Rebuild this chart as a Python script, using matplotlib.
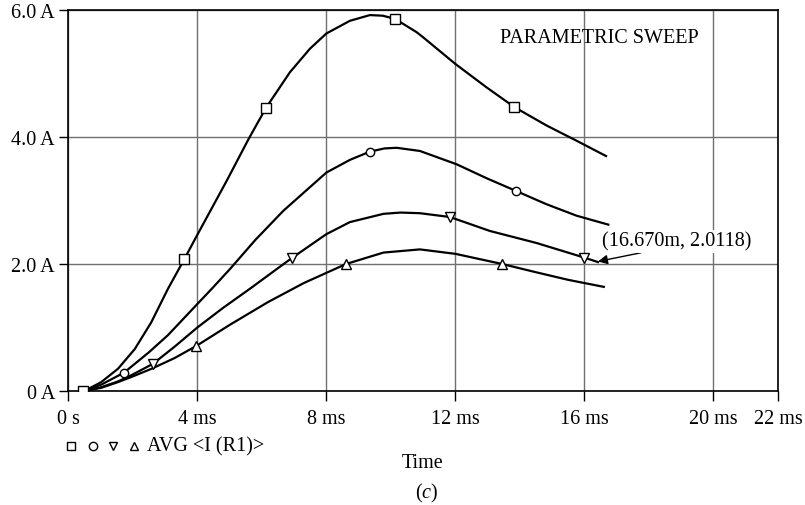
import numpy as np
import matplotlib
matplotlib.use("Agg")
import matplotlib.pyplot as plt
from matplotlib.lines import Line2D

plt.rcParams['font.family'] = ['Liberation Serif', 'DejaVu Serif']
plt.rcParams['mathtext.fontset'] = 'custom'
plt.rcParams['mathtext.it'] = 'Liberation Serif:italic'
plt.rcParams['mathtext.rm'] = 'Liberation Serif'

# time in ms, current in A
t_sq = [0.5, 1.02, 1.54, 2.06, 2.57, 3.09, 3.6, 4.0, 4.91, 5.58, 6.13, 6.87, 7.49, 8.0, 8.73, 9.35, 9.75, 10.13, 10.8, 11.0, 12.0, 12.97, 13.83, 14.83, 15.76, 16.67]
i_sq = [0.0, 0.14, 0.35, 0.66, 1.08, 1.61, 2.08, 2.46, 3.31, 3.96, 4.46, 5.02, 5.39, 5.63, 5.83, 5.92, 5.91, 5.86, 5.65, 5.57, 5.15, 4.78, 4.47, 4.18, 3.94, 3.70]

t_ci = [0.5, 1.02, 1.73, 2.5, 3.09, 4.0, 4.43, 5.01, 5.8, 6.67, 8.0, 8.73, 9.35, 9.8, 10.18, 10.9, 12.04, 12.97, 13.88, 14.83, 15.76, 16.74]
i_ci = [0.0, 0.1, 0.29, 0.61, 0.88, 1.37, 1.6, 1.92, 2.38, 2.84, 3.44, 3.64, 3.77, 3.82, 3.83, 3.78, 3.57, 3.35, 3.15, 2.94, 2.76, 2.62]

t_dn = [0.5, 1.02, 1.54, 2.0, 2.63, 3.3, 4.0, 4.8, 5.63, 6.46, 6.92, 8.0, 8.73, 9.77, 10.3, 10.9, 11.83, 13.07, 14.52, 16.0, 16.42]
i_dn = [0.0, 0.06, 0.15, 0.26, 0.43, 0.7, 1.0, 1.31, 1.61, 1.92, 2.09, 2.47, 2.66, 2.79, 2.81, 2.80, 2.74, 2.52, 2.33, 2.1, 2.03]

t_up = [0.5, 1.02, 1.54, 2.0, 2.58, 3.3, 3.97, 5.0, 6.19, 7.3, 8.61, 9.77, 10.9, 12.0, 13.45, 14.5, 15.5, 16.6]
i_up = [0.0, 0.05, 0.14, 0.23, 0.35, 0.52, 0.71, 1.04, 1.40, 1.70, 2.0, 2.18, 2.23, 2.16, 2.0, 1.87, 1.75, 1.64]

# marker positions
mt_sq = [0.45, 3.6, 6.13, 10.13, 13.83]
mi_sq = [0.0, 2.08, 4.46, 5.86, 4.47]
mt_ci = [1.73, 9.35, 13.88]
mi_ci = [0.29, 3.77, 3.15]
mt_dn = [2.63, 6.92, 11.83, 16.0]
mi_dn = [0.43, 2.09, 2.74, 2.1]
mt_up = [3.97, 8.61, 13.45]
mi_up = [0.71, 2.0, 2.0]

xticks = [0, 4, 8, 12, 16, 20, 22]
xticklabels = ['0 s', '4 ms', '8 ms', '12 ms', '16 ms', '20 ms', '22 ms']
yticks = [0, 2, 4, 6]
yticklabels = ['0 A', '2.0 A', '4.0 A', '6.0 A']

fs = 14.5
fig = plt.figure(figsize=(8.05, 5.06), dpi=100)
ax = fig.add_axes([68.3/805, 1-392/506, (778-68.3)/805, (392-11)/506])

for t, i in [(t_up, i_up), (t_dn, i_dn), (t_ci, i_ci), (t_sq, i_sq)]:
    ax.plot(t, i, color='black', lw=1.6, zorder=3, solid_joinstyle='round')

mk = dict(linestyle='none', mfc='white', mec='black', mew=1.0, zorder=4)
ax.plot(mt_up, mi_up, marker='^', ms=7, **mk)
ax.plot(mt_dn, mi_dn, marker='v', ms=7, **mk)
ax.plot(mt_ci, mi_ci, marker='o', ms=6, **mk)
ax.plot(mt_sq, mi_sq, marker='s', ms=6.5, **mk)

ax.set_xlim(0, 22)
ax.set_ylim(0, 6)
ax.set_xticks(xticks)
ax.set_xticklabels(xticklabels, fontsize=fs)
ax.set_yticks(yticks)
ax.set_yticklabels(yticklabels, fontsize=fs)
ax.tick_params(axis='x', direction='out', length=7, width=1.0, pad=6)
ax.tick_params(axis='y', direction='out', length=6.5, width=1.0, pad=3)
ax.grid(True, color='#707070', lw=1.0)
ax.set_axisbelow(True)
for s in ax.spines.values():
    s.set_linewidth(1.2)

ax.text(0.748, 0.929, 'PARAMETRIC SWEEP', transform=ax.transAxes, fontsize=fs,
        ha='center', va='center')

ax.annotate('(16.670m, 2.0118)', xy=(16.42, 2.04), xytext=(21.16, 2.36),
            fontsize=fs, ha='right', va='center',
            bbox=dict(boxstyle='square,pad=0.1', fc='white', ec='none'),
            arrowprops=dict(arrowstyle='-|>', color='black', lw=1.0,
                            mutation_scale=14, shrinkA=0, shrinkB=0,
                            relpos=(0.33, 0.0)))

# legend line below the axis
y_leg = 1 - 447/506
for xp, m in [(71, 's'), (93, 'o'), (113, 'v'), (134, '^')]:
    fig.add_artist(Line2D([xp/805], [y_leg], marker=m, ms=6, mfc='white',
                          mec='black', mew=1.0, linestyle='none',
                          transform=fig.transFigure))
fig.text(147/805, y_leg, 'AVG <I (R1)>', fontsize=fs, ha='left', va='center')
fig.text(423/805, 1 - 463/506, 'Time', fontsize=fs, ha='center', va='center')
fig.text(427/805, 1 - 493/506, r'($\mathit{c}$)', fontsize=fs, ha='center', va='center')

fig.savefig('out.png', dpi=100)
